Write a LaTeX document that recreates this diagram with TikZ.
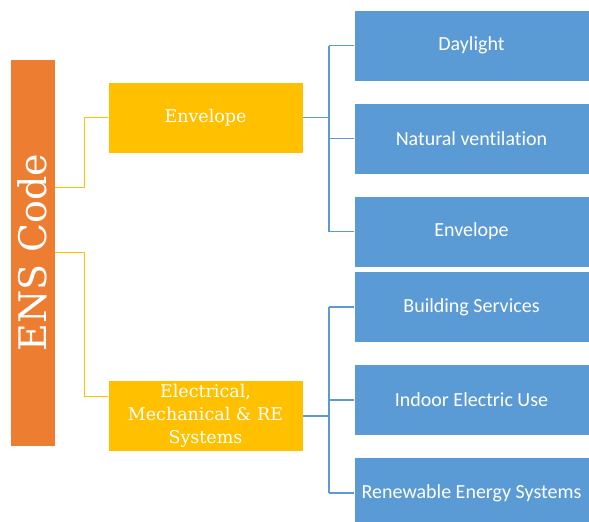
\documentclass[tikz,border=0pt]{standalone}
\usepackage{graphicx}
\usepackage{fontspec}
\setmainfont{Carlito}[Ligatures=NoCommon]
\newfontfamily\slabfont{DejaVu Serif}
\usepackage{tikz}

\definecolor{ensorange}{HTML}{ED7D31}
\definecolor{grpyellow}{HTML}{FFC000}
\definecolor{itemblue}{HTML}{5B9BD5}

\tikzset{
	rootbox/.style={fill=ensorange,draw=white,line width=0.6pt,minimum width=45pt,minimum height=387pt,inner sep=0pt,text=white,font=\slabfont\fontsize{38}{42}\selectfont},
	groupbox/.style={fill=grpyellow,draw=white,line width=0.6pt,minimum width=195pt,minimum height=71pt,inner sep=2pt,text=white,align=center,font=\slabfont\fontsize{17.5}{23}\selectfont},
	itembox/.style={fill=itemblue,draw=white,line width=0.6pt,minimum width=235pt,minimum height=71pt,inner sep=2pt,text=white,font=\fontsize{20}{24}\selectfont},
	yconn/.style={draw=grpyellow,line width=1pt},
	bconn/.style={draw=itemblue,line width=1.2pt},
}

\begin{document}
\begin{tikzpicture}[x=1pt,y=-1pt]
	\clip (0,0) rectangle (589,522);
	\fill[white] (0,0) rectangle (589,522);
	% root
	\node[rootbox] (ens) at (32.5,252.5) {\rotatebox{90}{ENS Code}};
	% groups
	\node[groupbox] (env) at (205.5,117.5) {Envelope};
	\node[groupbox] (elec) at (205.5,416) {Electrical,\\Mechanical \& RE\\Systems};
	% items
	\node[itembox] (day) at (471.5,45.5) {Daylight};
	\node[itembox] (nat) at (471.5,138.5) {Natural ventilation};
	\node[itembox] (envi) at (471.5,231.5) {Envelope};
	\node[itembox] (bld) at (471.5,307) {Building Services};
	\node[itembox] (ind) at (471.5,400) {Indoor Electric Use};
	\node[itembox] (ren) at (471.5,493) {Renewable Energy Systems};
	% root to groups
	\draw[yconn] (ens.east |- 0,187) -| (84,117.5) -- (env.west);
	\draw[yconn] (ens.east |- 0,252) -| (84,396) -- (elec.west |- 0,396);
	% groups to items
	\coordinate (tj) at (329,117.5);
	\coordinate (bj) at (329,416);
	\draw[bconn,line width=1.6pt] (env.east) -- (tj);
	\draw[bconn] (tj |- day.west) -- (tj |- envi.west);
	\foreach \n in {day,nat,envi} \draw[bconn] (tj |- \n.west) -- (\n.west);
	\draw[bconn,line width=1.6pt] (elec.east) -- (bj);
	\draw[bconn] (bj |- bld.west) -- (bj |- ren.west);
	\foreach \n in {bld,ind,ren} \draw[bconn] (bj |- \n.west) -- (\n.west);
\end{tikzpicture}
\end{document}
